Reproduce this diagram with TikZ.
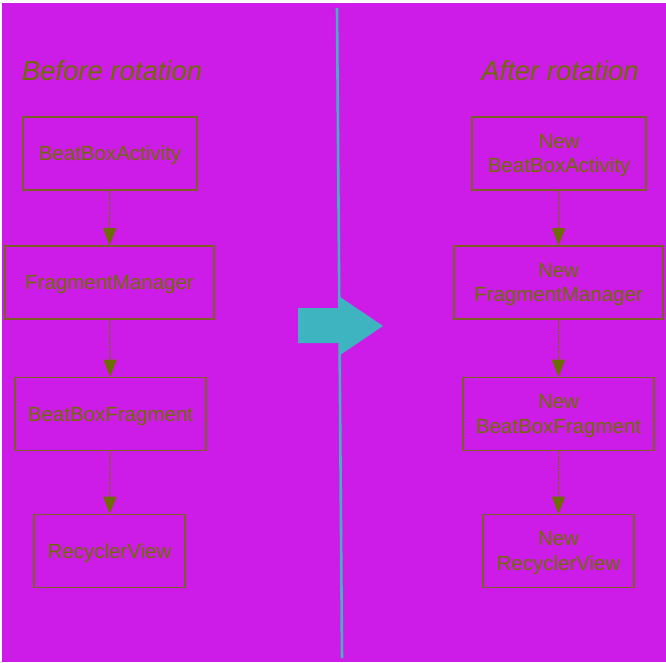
\documentclass[tikz,border=0pt]{standalone}
\usepackage{fontspec}
\setmainfont{Liberation Sans}
\usetikzlibrary{arrows.meta, positioning}

\definecolor{bgmag}{RGB}{205,28,232}
\definecolor{olivetext}{RGB}{108,108,0}
\definecolor{boxline}{RGB}{122,96,40}
\definecolor{tealline}{RGB}{62,180,192}

\begin{document}
\begin{tikzpicture}[x=1pt, y=-1pt,
  every node/.style={font=\fontsize{20.5}{24.5}\selectfont, text=olivetext},
  box/.style={draw=boxline, line width=1.6pt, minimum height=73pt, align=center, inner sep=0pt, text depth=0pt},
  title/.style={font=\fontsize{27.5}{30}\selectfont\itshape},
  arr/.style={-{Triangle[length=17pt, width=13pt]}, line width=1pt, olivetext, dash pattern=on 4pt off 1pt}
]
  \useasboundingbox (0,0) rectangle (666,662);
  \fill[white] (0,0) rectangle (666,662);
  \fill[bgmag] (2,3) rectangle (666,662);

  % left column
  \node[title] (Before) at (112,71) {Before rotation};
  \node[box, minimum width=174pt] (Act) at (110,153.5) {BeatBoxActivity};
  \node[box, minimum width=209pt] (FM) at (109.5,282.5) {FragmentManager};
  \node[box, minimum width=191pt] (Frag) at (110.5,414) {BeatBoxFragment};
  \node[box, minimum width=151pt] (RV) at (109.5,551) {RecyclerView};
  \draw[arr] (Act) -- (FM);
  \draw[arr] (FM) -- (Frag);
  \draw[arr] (Frag) -- (RV);

  % right column
  \node[title] (After) at (560,71) {After rotation};
  \node[box, minimum width=174pt] (NAct) at (559,153.5) {New\\BeatBoxActivity};
  \node[box, minimum width=209pt] (NFM) at (558.5,282.5) {New\\FragmentManager};
  \node[box, minimum width=191pt] (NFrag) at (558.5,414) {New\\BeatBoxFragment};
  \node[box, minimum width=151pt] (NRV) at (558.5,551) {New\\RecyclerView};
  \draw[arr] (NAct) -- (NFM);
  \draw[arr] (NFM) -- (NFrag);
  \draw[arr] (NFrag) -- (NRV);

  % divider and big arrow
  \coordinate (DivTop) at (337,8);
  \coordinate (DivBot) at (342,658);
  \draw[tealline, line width=2.6pt] (DivTop) -- (DivBot);
  \fill[tealline] (298,308) -- (340,308) -- (340,297) -- (383,326)
    -- (340,355) -- (340,343) -- (298,343) -- cycle;
\end{tikzpicture}
\end{document}
